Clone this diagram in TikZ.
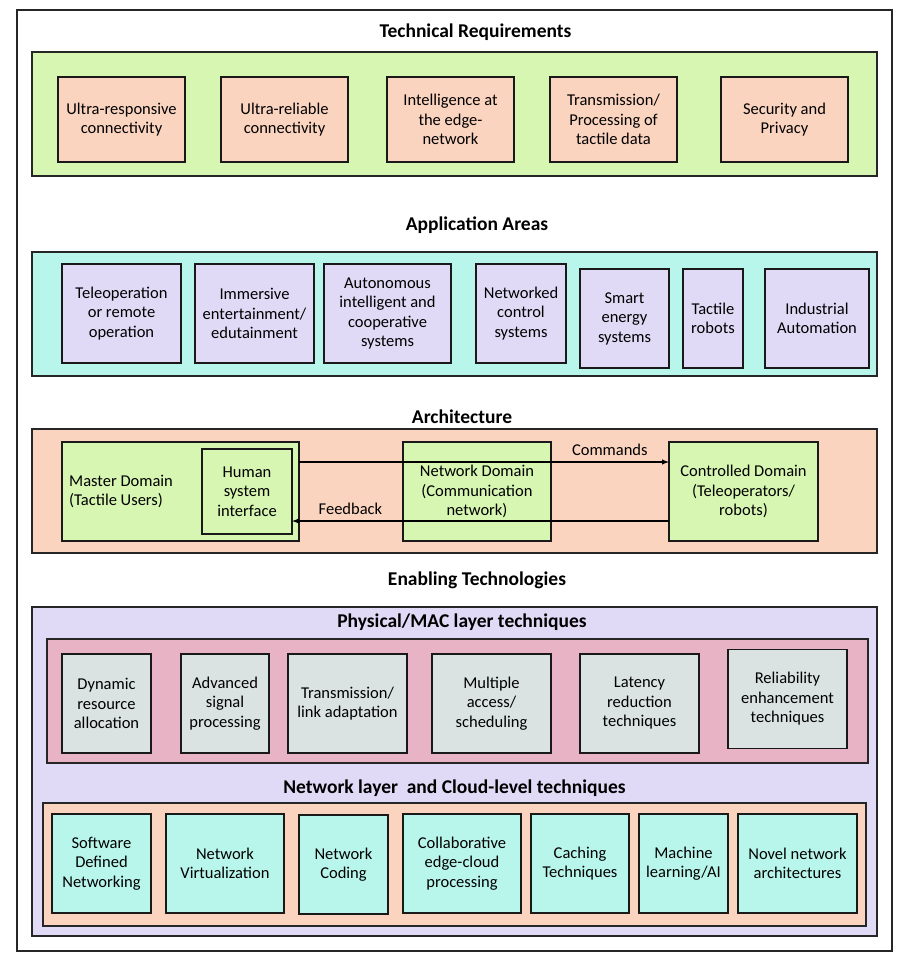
\documentclass[tikz,border=0pt]{standalone}
\usepackage{fontspec}
\setmainfont{Carlito}
\usetikzlibrary{shapes,arrows,positioning}

\definecolor{softgreen}{HTML}{D7F6B2}
\definecolor{softpeach}{HTML}{FBD4C0}
\definecolor{softcyan}{HTML}{B8F6EC}
\definecolor{softlilac}{HTML}{E1DAF6}
\definecolor{softpink}{HTML}{E9B3C6}
\definecolor{softgray}{HTML}{DAE2E2}

\begin{document}
\begin{tikzpicture}[x=1pt,y=-1pt]
    \tikzset{
        panel/.style = {rectangle, draw=black!85, line width=1.3pt, inner sep=0pt, outer sep=0pt},
        box/.style = {rectangle, draw=black!90, line width=1.6pt, inner sep=0pt, outer sep=0pt, align=center, font=\fontsize{16.5}{19.5}\selectfont},
        reqbox/.style = {box, fill=softpeach, minimum width=127pt, minimum height=85pt},
        appbox/.style = {box, fill=softlilac, minimum height=99pt},
        domainbox/.style = {box, fill=softgreen, minimum height=99pt},
        phybox/.style = {box, fill=softgray, minimum height=99pt},
        netbox/.style = {box, fill=softcyan, minimum height=99pt},
        heading/.style = {font=\fontsize{19.5}{22}\selectfont\bfseries},
        arrowtext/.style = {font=\fontsize{16.5}{19.5}\selectfont, inner sep=6pt},
        line/.style = {draw=black, line width=1.4pt, -latex},
    }
    \useasboundingbox (0,0) rectangle (899,959);

    \node[panel, line width=1.5pt, minimum width=875pt, minimum height=941pt](frame) at (454.5,480.5){};

    % technical requirements
    \node[heading](reqtitle) at (475.5,32){Technical Requirements};
    \node[panel, fill=softgreen, minimum width=845pt, minimum height=124pt](reqpanel) at (454.5,114){};

    \node[reqbox](tr1) at (121.5,119.5){Ultra-responsive\\connectivity};
    \node[reqbox](tr2)[right = 36pt of tr1]{Ultra-reliable\\connectivity};
    \node[reqbox](tr3)[right = 39pt of tr2]{Intelligence at\\the edge-\\network};
    \node[reqbox](tr4)[right = 36pt of tr3]{Transmission/\\Processing of\\tactile data};
    \node[reqbox](tr5)[right = 44pt of tr4]{Security and\\Privacy};

    % application areas
    \node[heading](apptitle) at (477,225){Application Areas};
    \node[panel, fill=softcyan, minimum width=845pt, minimum height=124pt](apppanel) at (454.5,314){};

    \node[appbox, minimum width=119pt](aa1) at (121.5,313.5){Teleoperation\\or remote\\operation};
    \node[appbox, minimum width=119pt](aa2)[right = 14pt of aa1]{Immersive\\entertainment/\\edutainment};
    \node[appbox, minimum width=127pt](aa3)[right = 10pt of aa2]{Autonomous\\intelligent and\\cooperative\\systems};
    \node[appbox, minimum width=90pt](aa4)[right = 25pt of aa3]{Networked\\control\\systems};
    \node[appbox, minimum width=89pt](aa5)[right = 14pt of aa4, yshift=-5pt]{Smart\\energy\\systems};
    \node[appbox, minimum width=60pt](aa6)[right = 14pt of aa5]{Tactile\\robots};
    \node[appbox, minimum width=104pt](aa7)[right = 22pt of aa6]{Industrial\\Automation};

    % architecture
    \node[heading](archtitle) at (462,417){Architecture};
    \node[panel, fill=softpeach, minimum width=845pt, minimum height=124pt](archpanel) at (454.5,491){};

    \node[domainbox, minimum width=237pt](md) at (180.5,491.5){};
    \node[arrowtext, align=left, inner sep=0pt](mdtext)[right = 7pt of md.west]{Master Domain\\(Tactile Users)};
    \node[domainbox, minimum width=90pt, minimum height=85pt](hsi) at (247,491.5){Human\\system\\interface};
    \node[domainbox, minimum width=148pt](nd) at (477,491.5){Network Domain\\(Communication\\network)};
    \node[domainbox, minimum width=149pt](cd) at (743.5,491.5){Controlled Domain\\(Teleoperators/\\robots)};

    \path [line] ([yshift=29.5pt]md.east) -- node[arrowtext, above, pos=0.84](cmd){Commands} ([yshift=29.5pt]md.east -| cd.west);
    \path [line] ([yshift=-29.5pt]cd.west) -- node[arrowtext, above, pos=0.845](fb){Feedback} ([yshift=-29.5pt]cd.west -| hsi.east);

    % enabling technologies
    \node[heading](enabletitle) at (477,580){Enabling Technologies};
    \node[panel, fill=softlilac, minimum width=845pt, minimum height=329pt](enablepanel) at (454.5,771.5){};

    \node[heading](phytitle) at (462,622){Physical/MAC layer techniques};
    \node[panel, fill=softpink, minimum width=821pt, minimum height=124pt](phypanel) at (457.5,701){};

    \node[phybox, minimum width=89pt](ph1) at (106.5,703.5){Dynamic\\resource\\allocation};
    \node[phybox, minimum width=88pt](ph2)[right = 30pt of ph1]{Advanced\\signal\\processing};
    \node[phybox, minimum width=119pt](ph3)[right = 19pt of ph2]{Transmission/\\link adaptation};
    \node[phybox, minimum width=119pt](ph4)[right = 25pt of ph3]{Multiple\\access/\\scheduling};
    \node[phybox, minimum width=119pt](ph5)[right = 29pt of ph4]{Latency\\reduction\\techniques};
    \node[phybox, minimum width=119pt](ph6)[right = 29pt of ph5, yshift=4.5pt]{Reliability\\enhancement\\techniques};

    \node[heading](nettitle) at (454.5,788){Network layer\ \ and Cloud-level techniques};
    \node[panel, fill=softpeach, minimum width=823pt, minimum height=123pt](netpanel) at (454.5,864.5){};

    \node[netbox, minimum width=99pt](nl1) at (101.5,863.5){Software\\Defined\\Networking};
    \node[netbox, minimum width=118pt](nl2)[right = 15pt of nl1]{Network\\Virtualization};
    \node[netbox, minimum width=89pt](nl3)[right = 15pt of nl2, yshift=-1pt]{Network\\Coding};
    \node[netbox, minimum width=118pt](nl4)[right = 15pt of nl3, yshift=1pt]{Collaborative\\edge-cloud\\processing};
    \node[netbox, minimum width=98pt](nl5)[right = 10pt of nl4]{Caching\\Techniques};
    \node[netbox, minimum width=89pt](nl6)[right = 10pt of nl5]{Machine\\learning/AI};
    \node[netbox, minimum width=119pt](nl7)[right = 10pt of nl6]{Novel network\\architectures};

\end{tikzpicture}
\end{document}
